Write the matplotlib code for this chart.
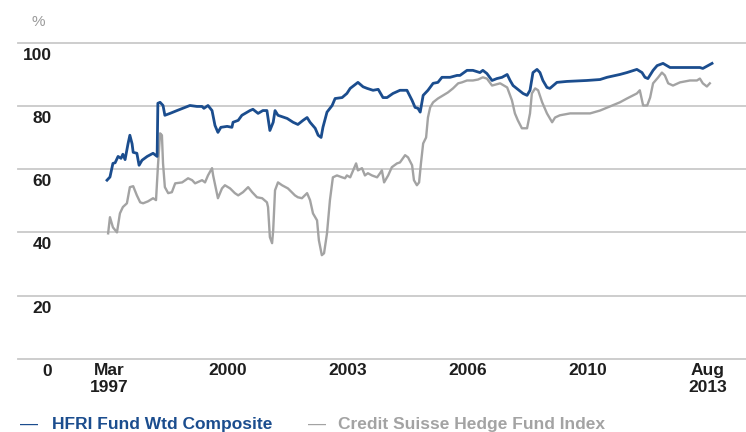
import matplotlib
matplotlib.use("Agg")
import matplotlib.pyplot as plt
import matplotlib.transforms as mtransforms

plt.rcParams['font.family'] = ['Liberation Sans', 'DejaVu Sans']

# HFRI Fund Wtd Composite (decimal year, %)
hfri_x = [1997.17, 1997.25, 1997.33, 1997.39, 1997.47, 1997.55, 1997.60, 1997.66, 1997.74, 1997.79,
          1997.85, 1997.88, 1997.98, 1998.04, 1998.12, 1998.26, 1998.42, 1998.53, 1998.55, 1998.61,
          1998.69, 1998.74, 1998.88, 1999.07, 1999.29, 1999.42, 1999.61, 1999.75, 1999.80, 1999.91,
          2000.02, 2000.10, 2000.18, 2000.26, 2000.43, 2000.56, 2000.59, 2000.73, 2000.83, 2001.05,
          2001.13, 2001.27, 2001.40, 2001.51, 2001.59, 2001.68, 2001.73, 2001.81, 2002.06, 2002.22,
          2002.35, 2002.49, 2002.60, 2002.68, 2002.82, 2002.90, 2002.98, 2003.03, 2003.14, 2003.28,
          2003.36, 2003.55, 2003.68, 2003.77, 2003.98, 2004.12, 2004.23, 2004.39, 2004.53, 2004.66,
          2004.77, 2004.93, 2005.12, 2005.31, 2005.45, 2005.53, 2005.61, 2005.67, 2005.75, 2005.88,
          2006.02, 2006.15, 2006.26, 2006.48, 2006.67, 2006.75, 2006.94, 2007.10, 2007.29, 2007.37,
          2007.48, 2007.62, 2007.75, 2007.89, 2008.03, 2008.11, 2008.19, 2008.32, 2008.46, 2008.57,
          2008.65, 2008.73, 2008.84, 2008.92, 2009.00, 2009.11, 2009.19, 2009.38, 2009.65, 2010.19,
          2010.55, 2010.74, 2011.09, 2011.28, 2011.55, 2011.69, 2011.77, 2011.85, 2011.99, 2012.10,
          2012.26, 2012.45, 2012.72, 2013.07, 2013.26, 2013.34, 2013.48, 2013.59]
hfri_y = [56.5, 57.5, 61.8, 62.0, 64.0, 63.4, 64.7, 63.0, 68.0, 70.7,
          68.0, 65.3, 65.0, 61.2, 62.8, 64.0, 65.0, 64.0, 80.8, 81.1,
          80.1, 77.0, 77.6, 78.5, 79.5, 80.1, 79.8, 79.8, 79.2, 80.1,
          78.5, 73.8, 71.6, 73.2, 73.5, 73.2, 74.8, 75.4, 77.0, 78.5,
          78.9, 77.6, 78.5, 78.5, 72.2, 74.8, 78.5, 77.0, 76.0, 74.8,
          74.1, 75.4, 76.3, 74.8, 72.9, 70.7, 70.0, 73.2, 78.0, 80.1,
          82.3, 82.6, 83.9, 85.5, 87.4, 86.0, 85.5, 84.9, 85.2, 82.6,
          82.6, 83.9, 84.9, 84.9, 81.7, 79.5, 79.2, 78.0, 83.3, 84.9,
          87.1, 87.4, 89.0, 89.0, 89.6, 89.6, 91.2, 91.2, 90.5, 91.2,
          90.2, 88.0, 88.6, 89.0, 89.9, 88.0, 86.4, 85.2, 83.9, 83.3,
          84.9, 90.5, 91.5, 90.5, 88.0, 85.8, 85.5, 87.4, 87.7, 88.0,
          88.3, 89.0, 89.9, 90.5, 91.5, 90.5, 89.0, 88.6, 91.2, 92.7,
          93.4, 92.1, 92.1, 92.1, 92.1, 91.8, 92.7, 93.4]

# Credit Suisse Hedge Fund Index (decimal year, %)
cs_x = [1997.20, 1997.25, 1997.33, 1997.44, 1997.52, 1997.60, 1997.71, 1997.79, 1997.88, 1997.98,
        1998.07, 1998.15, 1998.28, 1998.42, 1998.50, 1998.55, 1998.61, 1998.66, 1998.69, 1998.74,
        1998.83, 1998.93, 1999.02, 1999.21, 1999.37, 1999.48, 1999.56, 1999.75, 1999.83, 1999.91,
        2000.02, 2000.05, 2000.18, 2000.29, 2000.37, 2000.51, 2000.64, 2000.73, 2000.86, 2001.00,
        2001.11, 2001.24, 2001.38, 2001.51, 2001.54, 2001.59, 2001.65, 2001.68, 2001.73, 2001.81,
        2001.92, 2002.08, 2002.27, 2002.35, 2002.46, 2002.60, 2002.68, 2002.76, 2002.87, 2002.92,
        2003.00, 2003.06, 2003.14, 2003.22, 2003.30, 2003.41, 2003.55, 2003.63, 2003.68, 2003.77,
        2003.85, 2003.93, 2003.98, 2004.09, 2004.17, 2004.25, 2004.36, 2004.50, 2004.58, 2004.63,
        2004.69, 2004.80, 2004.90, 2005.04, 2005.12, 2005.26, 2005.34, 2005.45, 2005.50, 2005.58,
        2005.64, 2005.69, 2005.75, 2005.83, 2005.88, 2005.94, 2006.02, 2006.15, 2006.29, 2006.42,
        2006.56, 2006.70, 2006.80, 2006.94, 2007.10, 2007.24, 2007.37, 2007.48, 2007.62, 2007.84,
        2008.03, 2008.16, 2008.24, 2008.32, 2008.43, 2008.57, 2008.65, 2008.70, 2008.79, 2008.87,
        2008.98, 2009.11, 2009.25, 2009.33, 2009.46, 2009.74, 2010.01, 2010.28, 2010.55, 2010.82,
        2011.09, 2011.28, 2011.55, 2011.63, 2011.72, 2011.83, 2011.91, 2011.99, 2012.13, 2012.23,
        2012.31, 2012.40, 2012.53, 2012.72, 2012.99, 2013.18, 2013.26, 2013.34, 2013.45, 2013.53]
cs_y = [39.7, 44.8, 41.6, 40.0, 46.0, 48.0, 49.2, 54.3, 54.6, 51.7,
        49.5, 49.2, 49.8, 50.8, 50.2, 60.6, 71.3, 70.7, 61.8, 54.3,
        52.4, 52.7, 55.5, 55.8, 57.1, 56.5, 55.5, 56.5, 55.8, 58.0,
        60.3, 58.0, 50.8, 53.9, 54.9, 53.9, 52.4, 51.7, 52.7, 54.3,
        52.7, 51.1, 50.8, 49.5, 48.0, 38.5, 36.6, 40.7, 53.3, 55.8,
        54.9, 53.9, 51.7, 51.1, 50.8, 52.4, 50.2, 46.0, 43.8, 37.5,
        32.8, 33.4, 39.7, 50.2, 57.4, 58.0, 57.4, 57.1, 58.0, 57.4,
        59.6, 61.8, 59.6, 60.3, 58.0, 58.7, 58.0, 57.4, 58.7, 59.6,
        55.8, 58.0, 60.6, 61.8, 62.1, 64.4, 63.7, 61.2, 56.5, 54.9,
        55.8, 61.8, 68.1, 70.0, 76.3, 79.5, 81.1, 82.3, 83.3, 84.2,
        85.5, 87.1, 87.4, 88.0, 88.0, 88.3, 89.0, 88.6, 86.4, 87.1,
        85.8, 81.7, 77.6, 75.4, 72.9, 72.9, 77.6, 83.9, 85.5, 84.9,
        81.1, 77.6, 74.8, 76.3, 77.0, 77.6, 77.6, 77.6, 78.5, 79.8,
        81.1, 82.3, 83.9, 84.9, 80.1, 80.1, 82.6, 87.1, 89.0, 90.5,
        89.6, 87.1, 86.4, 87.4, 88.0, 88.0, 88.6, 87.1, 86.1, 87.1]

x_tick_pos = [1997.22, 2000.45, 2003.71, 2006.97, 2010.22, 2013.48]
x_tick_labels = ['Mar\n1997', '2000', '2003', '2006', '2010', 'Aug\n2013']
y_ticks = [0, 20, 40, 60, 80, 100]

blue = '#1b4d8e'
grey = '#a3a3a3'
dark = '#1e1e1e'

fig = plt.figure(figsize=(7.46, 4.32), dpi=100)
ax = fig.add_axes([18 / 746, 73 / 432, 728 / 746, 316.5 / 432])
ax.set_xlim(1994.754, 2014.512)
ax.set_ylim(0, 100)
ax.axis('off')

for v in y_ticks:
    ax.axhline(v, color='#c9c9c9', lw=1.3, zorder=0, clip_on=False)

ax.plot(cs_x, cs_y, color=grey, lw=1.7, zorder=2)
ax.plot(hfri_x, hfri_y, color=blue, lw=2.0, zorder=3)

# y labels sit just below their gridlines
ytrans = mtransforms.blended_transform_factory(fig.transFigure, ax.transData)
off = mtransforms.ScaledTranslation(0, -5 / 100, fig.dpi_scale_trans)
for v in y_ticks:
    ax.text(52 / 746, v, str(v), transform=ytrans + off, ha='right', va='top',
            fontsize=12.5, fontweight='bold', color=dark)

xtrans = mtransforms.blended_transform_factory(ax.transData, fig.transFigure)
for p, lab in zip(x_tick_pos, x_tick_labels):
    ax.text(p, 1 - 363 / 432, lab, transform=xtrans, ha='center', va='top',
            fontsize=12.5, fontweight='bold', color=dark, linespacing=1.15)

fig.text(38 / 746, 1 - 22 / 432, '%', ha='center', va='center', fontsize=11, color='#9a9a9a')

# legend
fig.text(20 / 746, 1 - 424 / 432, '\u2014', ha='left', va='center', fontsize=13, color=blue)
fig.text(52 / 746, 1 - 424 / 432, 'HFRI Fund Wtd Composite', ha='left', va='center',
         fontsize=12.5, fontweight='bold', color=blue)
fig.text(308 / 746, 1 - 424 / 432, '\u2014', ha='left', va='center', fontsize=13, color=grey)
fig.text(338 / 746, 1 - 424 / 432, 'Credit Suisse Hedge Fund Index', ha='left', va='center',
         fontsize=12.5, fontweight='bold', color=grey)

fig.savefig('out.png', dpi=100)
